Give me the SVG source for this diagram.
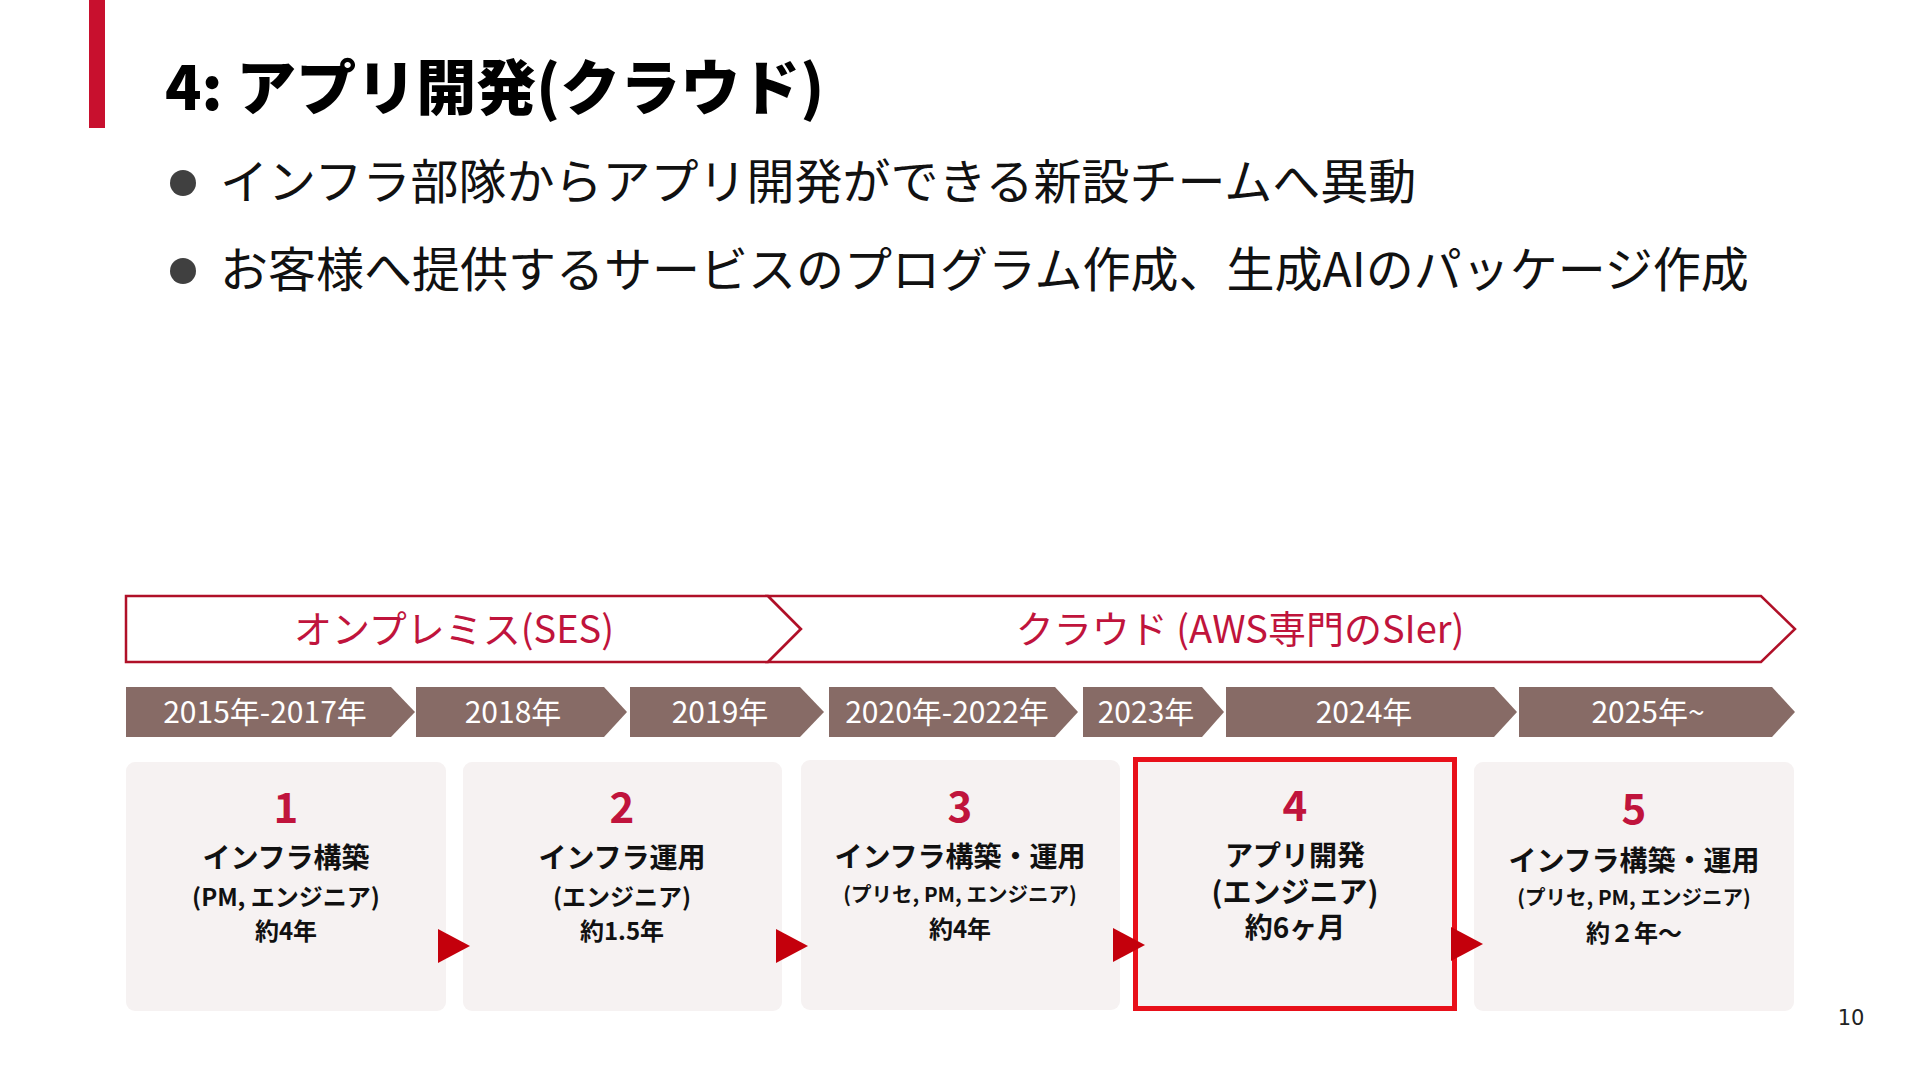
<svg xmlns="http://www.w3.org/2000/svg" width="1920" height="1080" viewBox="0 0 1920 1080">
<style>
.jp{font-family:"Noto Sans CJK JP","Noto Sans",sans-serif}
.title{font-size:60px;font-weight:900;fill:#000}
.bul{font-size:48px;fill:#111}
.phase{fill:#fff;stroke:#B01028;stroke-width:2.5}
.phasetxt{font-size:38px;fill:#C0143C;text-anchor:middle}
.year{fill:#876B66}
.yeartxt{font-size:30px;fill:#fff;text-anchor:middle}
.card{fill:#F6F2F2}
.num{font-size:42px;font-weight:700;fill:#C0143C;text-anchor:middle}
.h{font-size:28px;font-weight:700;fill:#111;text-anchor:middle}
.s{font-size:24px;font-weight:700;fill:#111;text-anchor:middle}
.xs{font-size:20.5px;font-weight:700;fill:#111;text-anchor:middle}
.tri{fill:#C4000C}
</style>
<rect x="89" y="0" width="16" height="128" fill="#C8102E"/>
<text class="jp title" x="165" y="110">4: アプリ開発(クラウド)</text>
<circle cx="183" cy="183" r="13" fill="#404040"/>
<text class="jp bul" x="220" y="199">インフラ部隊からアプリ開発ができる新設チームへ異動</text>
<circle cx="183" cy="271" r="13" fill="#404040"/>
<text class="jp bul" x="220" y="287">お客様へ提供するサービスのプログラム作成、生成AIのパッケージ作成</text>

<g id="phase-onprem">
<path class="phase" d="M126,596 H768 L801,629 L768,662 H126 Z"/>
<text class="jp phasetxt" x="454" y="643">オンプレミス(SES)</text>
</g>
<g id="phase-cloud">
<path class="phase" d="M768,596 H1761 L1795,629 L1761,662 H768 L801,629 Z"/>
<text class="jp phasetxt" x="1240" y="643">クラウド (AWS専門のSIer)</text>
</g>

<g id="years">
<path class="year" d="M126,687 H391 L415,712 L391,737 H126 Z"/>
<text class="jp yeartxt" x="265" y="723">2015年-2017年</text>
<path class="year" d="M416,687 H604 L627,712 L604,737 H416 Z"/>
<text class="jp yeartxt" x="513" y="723">2018年</text>
<path class="year" d="M630,687 H800 L824,712 L800,737 H630 Z"/>
<text class="jp yeartxt" x="720" y="723">2019年</text>
<path class="year" d="M829,687 H1055 L1078,712 L1055,737 H829 Z"/>
<text class="jp yeartxt" x="947" y="723">2020年-2022年</text>
<path class="year" d="M1083,687 H1202 L1224,712 L1202,737 H1083 Z"/>
<text class="jp yeartxt" x="1146" y="723">2023年</text>
<path class="year" d="M1226,687 H1494 L1517,712 L1494,737 H1226 Z"/>
<text class="jp yeartxt" x="1364" y="723">2024年</text>
<path class="year" d="M1519,687 H1772 L1795,712 L1772,737 H1519 Z"/>
<text class="jp yeartxt" x="1648" y="723">2025年~</text>
</g>

<g id="card1">
<rect class="card" x="126" y="762" width="320" height="249" rx="9"/>
<text class="jp num" x="286" y="823">1</text>
<text class="jp h" x="286" y="868">インフラ構築</text>
<text class="jp s" x="286" y="906">(PM, エンジニア)</text>
<text class="jp s" x="286" y="940">約4年</text>
</g>
<g id="card2">
<rect class="card" x="463" y="762" width="319" height="249" rx="9"/>
<text class="jp num" x="622" y="823">2</text>
<text class="jp h" x="622" y="868">インフラ運用</text>
<text class="jp s" x="622" y="906">(エンジニア)</text>
<text class="jp s" x="622" y="940">約1.5年</text>
</g>
<g id="card3">
<rect class="card" x="801" y="760" width="319" height="250" rx="9"/>
<text class="jp num" x="960" y="822">3</text>
<text class="jp h" x="960" y="867">インフラ構築・運用</text>
<text class="jp xs" x="960" y="902">(プリセ, PM, エンジニア)</text>
<text class="jp s" x="960" y="938">約4年</text>
</g>
<g id="card4">
<rect class="card" x="1135.5" y="759.5" width="319" height="249" stroke="#E8101A" stroke-width="5"/>
<text class="jp num" x="1295" y="821">4</text>
<text class="jp h" x="1295" y="866">アプリ開発</text>
<text class="jp h" x="1295" y="903" style="font-size:29px">(エンジニア)</text>
<text class="jp h" x="1295" y="938">約6ヶ月</text>
</g>
<g id="card5">
<rect class="card" x="1474" y="762" width="320" height="249" rx="9"/>
<text class="jp num" x="1634" y="824">5</text>
<text class="jp h" x="1634" y="871">インフラ構築・運用</text>
<text class="jp xs" x="1634" y="905">(プリセ, PM, エンジニア)</text>
<text class="jp s" x="1634" y="942">約２年～</text>
</g>

<g id="connectors">
<path class="tri" d="M438,929 L470,946 L438,963 Z"/>
<path class="tri" d="M776,929 L808,946 L776,963 Z"/>
<path class="tri" d="M1113,928 L1145,945 L1113,962 Z"/>
<path class="tri" d="M1451,927 L1483,944 L1451,961 Z"/>
</g>

<text x="1851" y="1025" font-family="DejaVu Sans, sans-serif" font-size="21" fill="#222" text-anchor="middle">10</text>
</svg>
